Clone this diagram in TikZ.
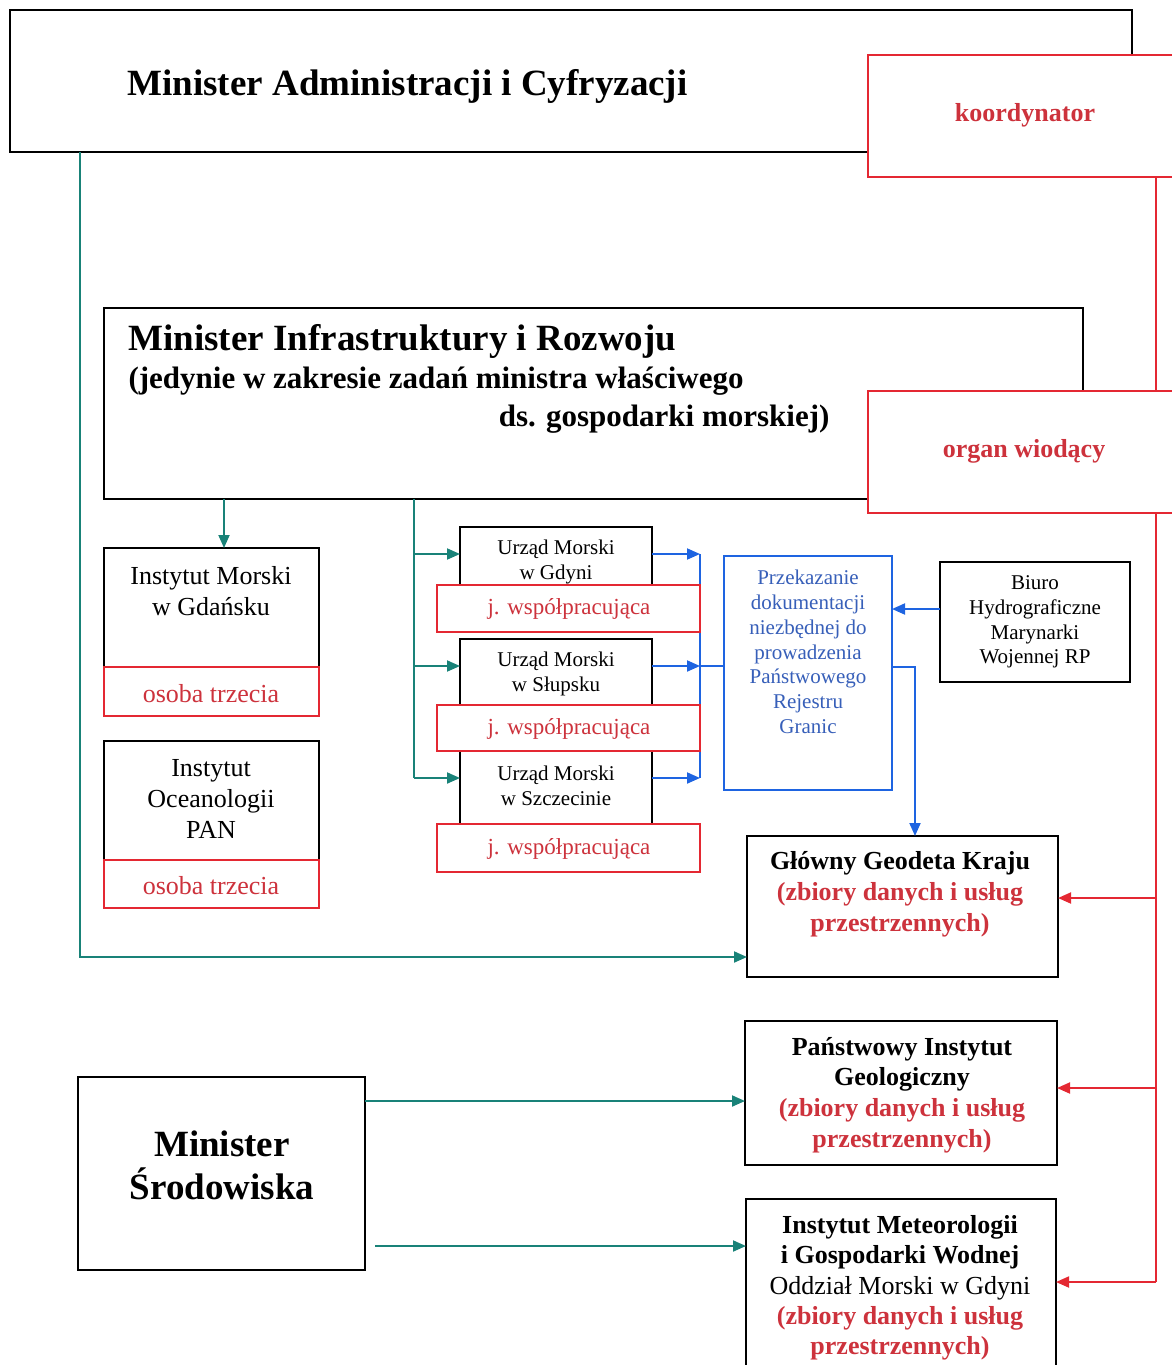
\documentclass[tikz,border=0pt]{standalone}
\usepackage{fontspec}
\setmainfont{Liberation Serif}
\usetikzlibrary{arrows.meta}
\definecolor{tealc}{RGB}{25,130,120}
\definecolor{redl}{RGB}{228,40,50}
\definecolor{redt}{RGB}{205,50,60}
\definecolor{bluel}{RGB}{30,100,225}
\definecolor{bluet}{RGB}{55,95,185}
\newcommand{\fs}[2]{\fontsize{#1}{#2}\selectfont}
\begin{document}
\begin{tikzpicture}[x=1pt,y=-1pt,
  box/.style={draw=black,line width=1.9pt,fill=white,anchor=north west,inner sep=0pt,outer sep=0pt},
  rbox/.style={box,draw=redl,line width=1.7pt},
  bbox/.style={box,draw=bluel,line width=1.7pt},
  frame/.style={anchor=north west,inner sep=0pt,outer sep=0pt},
  txt/.style={align=center,inner sep=0pt},
  tip/.style={-{Triangle[length=13pt,width=11pt]}},
  tline/.style={draw=tealc,line width=1.9pt},
  tarr/.style={tline,tip},
  bline/.style={draw=bluel,line width=1.9pt},
  barr/.style={bline,tip},
  rline/.style={draw=redl,line width=1.9pt},
  rarr/.style={rline,tip}]
\useasboundingbox (0,0) rectangle (1171,1365);

% ---- Minister Administracji i Cyfryzacji
\node[frame,minimum width=858pt,minimum height=142pt] (mac) at (10,10) {};
\draw[line width=1.9pt] (mac.south east) -- (mac.south west) -- (mac.north west) -- (1132,10) -- (1132,56);
\node[anchor=west,font=\bfseries\fs{37}{44}] (macT) at (124,86) {Minister Administracji i Cyfryzacji};
\node[rbox,minimum width=320pt,minimum height=122pt] (kord) at (868,55) {};
\node[font=\bfseries\fs{26}{31},text=redt] (kordT) at (1025,115) {koordynator};

% ---- Minister Infrastruktury i Rozwoju
\node[frame,minimum width=764pt,minimum height=191pt] (mir) at (104,308) {};
\draw[line width=1.9pt] (mir.south east) -- (mir.south west) -- (mir.north west) -- (1083,308) -- (1083,392);
\node[anchor=west,font=\bfseries\fs{37}{44}] (mirT) at (125,341) {Minister Infrastruktury i Rozwoju};
\node[anchor=west,font=\bfseries\fs{31}{38}] (mirT2) at (125,381) {(jedynie w zakresie zadań ministra właściwego};
\node[anchor=east,font=\bfseries\fs{31}{38}] (mirT3) at (833,419) {ds. gospodarki morskiej)};
\node[rbox,minimum width=320pt,minimum height=122pt] (org) at (868,391) {};
\node[font=\bfseries\fs{26}{31},text=redt] (orgT) at (1024,451) {organ wiodący};

% ---- Instytuty (left)
\node[box,minimum width=215pt,minimum height=119pt] (im) at (104,548) {};
\node[rbox,minimum width=215pt,minimum height=49pt] (imR) at (104,667) {};
\node[txt,font=\fs{26}{31}] (imT) at (211,591) {Instytut Morski\\w Gdańsku};
\node[txt,font=\fs{26}{31},text=redt] (imRT) at (211,694) {osoba trzecia};

\node[box,minimum width=215pt,minimum height=119pt] (io) at (104,741) {};
\node[rbox,minimum width=215pt,minimum height=48pt] (ioR) at (104,860) {};
\node[txt,font=\fs{26}{31}] (ioT) at (211,799) {Instytut\\Oceanologii\\PAN};
\node[txt,font=\fs{26}{31},text=redt] (ioRT) at (211,886) {osoba trzecia};

% ---- Urzedy Morskie
\node[box,minimum width=192pt,minimum height=70pt] (umg) at (460,527) {};
\node[txt,font=\fs{21}{25}] (umgT) at (556,562) {Urząd Morski\\w Gdyni};
\node[box,minimum width=192pt,minimum height=80pt] (ums) at (460,639) {};
\node[txt,font=\fs{21}{25}] (umsT) at (556,674) {Urząd Morski\\w Słupsku};
\node[box,minimum width=192pt,minimum height=80pt] (umsz) at (460,751) {};
\node[txt,font=\fs{21}{25}] (umszT) at (556,786) {Urząd Morski\\w Szczecinie};

% ---- Przekazanie / Biuro
\node[bbox,minimum width=168pt,minimum height=234pt] (prz) at (724,556) {};
\node[txt,font=\fs{21}{24.8},text=bluet] (przT) at (808,652) {Przekazanie\\dokumentacji\\niezbędnej do\\prowadzenia\\Państwowego\\Rejestru\\Granic};
\node[box,minimum width=190pt,minimum height=120pt] (biu) at (940,562) {};
\node[txt,font=\fs{21}{24.6}] (biuT) at (1035,622) {Biuro\\Hydrograficzne\\Marynarki\\Wojennej RP};

% ---- blue connectors
\coordinate (bj1) at (700,554);
\coordinate (bj2) at (700,666);
\coordinate (bj3) at (700,778);
\draw[barr] (umg.east |- bj1) -- (bj1);
\draw[barr] (ums.east |- bj2) -- (bj2);
\draw[barr] (umsz.east |- bj3) -- (bj3);
\draw[bline] (bj1) -- (bj3);
\draw[bline] (bj2) -- (prz.west |- bj2);

% ---- j. wspolpracujaca
\node[rbox,minimum width=263pt,minimum height=47pt] (jg) at (437,585) {};
\node[txt,font=\fs{23}{25},text=redt] (jgT) at (569,609) {j. współpracująca};
\node[rbox,minimum width=263pt,minimum height=46pt] (js) at (437,705) {};
\node[txt,font=\fs{23}{25},text=redt] (jsT) at (569,729) {j. współpracująca};
\node[rbox,minimum width=263pt,minimum height=48pt] (jsz) at (437,824) {};
\node[txt,font=\fs{23}{25},text=redt] (jszT) at (569,849) {j. współpracująca};

% ---- right column
\node[box,minimum width=311pt,minimum height=141pt] (ggk) at (747,836) {};
\node[txt,font=\bfseries\fs{26}{31}] (ggkT) at (900,894) {Główny Geodeta Kraju\\\textcolor{redt}{(zbiory danych i usług}\\\textcolor{redt}{przestrzennych)}};
\node[box,minimum width=312pt,minimum height=144pt] (pig) at (745,1021) {};
\node[txt,font=\bfseries\fs{26}{30.7}] (pigT) at (902,1095) {Państwowy Instytut\\Geologiczny\\\textcolor{redt}{(zbiory danych i usług}\\\textcolor{redt}{przestrzennych)}};
\node[box,minimum width=310pt,minimum height=220pt] (imgw) at (746,1199) {};
\node[txt,font=\bfseries\fs{26}{30.3}] (imgwT) at (900,1288) {Instytut Meteorologii\\i Gospodarki Wodnej\\{\mdseries Oddział Morski w Gdyni}\\\textcolor{redt}{(zbiory danych i usług}\\\textcolor{redt}{przestrzennych)}};

% ---- Minister Srodowiska
\node[box,minimum width=287pt,minimum height=193pt] (ms) at (78,1077) {};
\node[txt,font=\bfseries\fs{37}{43}] (msT) at (222,1165) {Minister\\Środowiska};

% ---- teal connectors
\coordinate (tA) at (80,957);
\draw[tarr] (tA |- mac.south) -- (tA) -- (ggk.west |- tA);
\coordinate (tC) at (224,520);
\draw[tarr] (tC |- mir.south) -- (tC |- im.north);
\coordinate (tB) at (414,778);
\coordinate (tB1) at (414,554);
\coordinate (tB2) at (414,666);
\draw[tline] (tB |- mir.south) -- (tB);
\draw[tarr] (tB1) -- (umg.west |- bj1);
\draw[tarr] (tB2) -- (ums.west |- bj2);
\draw[tarr] (tB) -- (umsz.west |- bj3);
\coordinate (tD) at (370,1101);
\coordinate (tE) at (375,1246);
\draw[tarr] (ms.east |- tD) -- (pig.west |- tD);
\draw[tarr] (tE) -- (imgw.west |- tE);

% ---- blue to/from Przekazanie
\coordinate (bB) at (915,609);
\draw[barr] (biu.west |- bB) -- (prz.east |- bB);
\coordinate (bK) at (915,667);
\draw[barr] (prz.east |- bK) -- (bK) -- (bK |- ggk.north);

% ---- red connectors
\coordinate (rV) at (1156,1282);
\coordinate (r1) at (1156,898);
\coordinate (r2) at (1156,1088);
\draw[rline] (rV |- kord.south) -- (rV |- org.north);
\draw[rline] (rV |- org.south) -- (rV);
\draw[rarr] (r1) -- (ggk.east |- r1);
\draw[rarr] (r2) -- (pig.east |- r2);
\draw[rarr] (rV) -- (imgw.east |- rV);
\end{tikzpicture}
\end{document}
